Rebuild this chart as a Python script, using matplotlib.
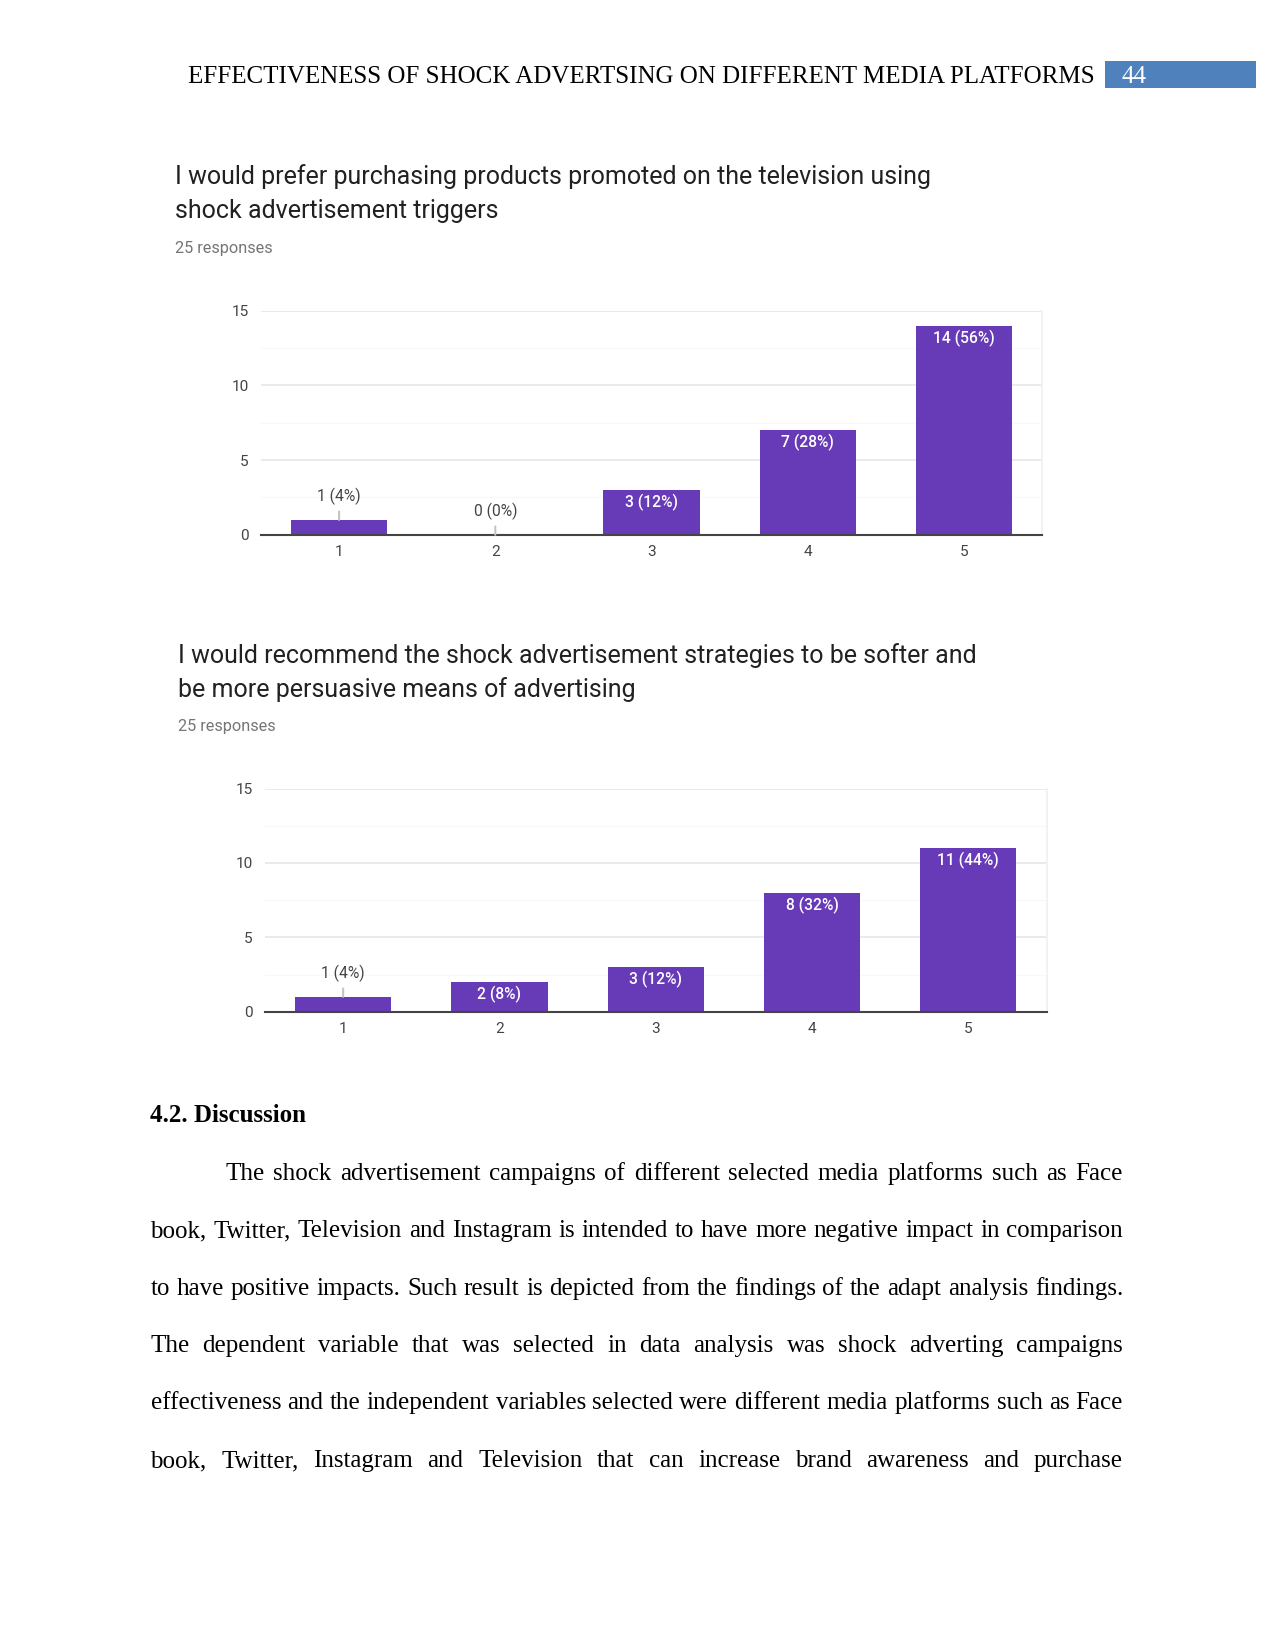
import matplotlib
matplotlib.use("Agg")
import matplotlib.pyplot as plt

# survey data (Likert scale 1-5, 25 responses each)
scale = [1, 2, 3, 4, 5]
tv_counts = [1, 0, 3, 7, 14]
softer_counts = [1, 2, 3, 8, 11]
responses = 25

tv_title = ["I would prefer purchasing products promoted on the television using",
            "shock advertisement triggers"]
softer_title = ["I would recommend the shock advertisement strategies to be softer and",
                "be more persuasive means of advertising"]

header = "EFFECTIVENESS OF SHOCK ADVERTSING ON DIFFERENT MEDIA PLATFORMS"
page_no = "44"
section = "4.2. Discussion"
body_lines = [
    "The shock advertisement campaigns of different selected media platforms such as Face",
    "book, Twitter, Television and Instagram is intended to have more negative impact in comparison",
    "to have positive impacts. Such result is depicted from the findings of the adapt analysis findings.",
    "The dependent variable that was selected in data analysis was shock adverting campaigns",
    "effectiveness and the independent variables selected were different media platforms such as Face",
    "book, Twitter, Instagram and Television that can increase brand awareness and purchase",
]

W, H = 1275, 1651
DPI = 150
PURPLE = "#673ab7"
SERIF = ["Liberation Serif", "DejaVu Serif"]
SANS = ["Roboto", "DejaVu Sans"]

fig = plt.figure(figsize=(W / DPI, H / DPI), dpi=DPI)
fig.patch.set_facecolor("white")


def fx(x):
    return x / W


def fy(y):
    return 1 - y / H


def px_text(x, y, s, **kw):
    return fig.text(fx(x), fy(y), s, **kw)


# page header
px_text(1095, 77, header, family=SERIF, fontsize=12, ha="right", va="center", color="black")
fig.patches.append(plt.Rectangle((fx(1105), fy(88)), fx(1256) - fx(1105), fy(61) - fy(88),
                                 transform=fig.transFigure, facecolor="#4f81bd", edgecolor="none"))
px_text(1121, 77, page_no, family=SERIF, fontsize=12, ha="left", va="center", color="white")


def draw_chart(counts, title, tx, ty, box):
    px_text(tx, ty, title[0], family=SANS, fontsize=12, color="#212121", va="center")
    px_text(tx, ty + 34, title[1], family=SANS, fontsize=12, color="#212121", va="center")
    px_text(tx, ty + 71, "%d responses" % responses, family=SANS, fontsize=7.8,
            color="#757575", va="center")

    left, right, top, bottom = box
    ax = fig.add_axes([fx(left), fy(bottom), fx(right) - fx(left), fy(top) - fy(bottom)])
    ax.bar(scale, counts, width=0.615, color=PURPLE, zorder=3)
    ax.set_xlim(0.5, 5.5)
    ax.set_ylim(0, 15)
    ax.set_yticks([0, 5, 10, 15])
    ax.set_yticks([2.5, 7.5, 12.5], minor=True)
    ax.set_xticks(scale)
    ax.grid(axis="y", which="major", color="#e6e6e6", lw=0.8, zorder=0)
    ax.grid(axis="y", which="minor", color="#f8f8f8", lw=0.5, zorder=0)
    for side in ["top", "left"]:
        ax.spines[side].set_visible(False)
    ax.spines["right"].set_color("#f0f0f0")
    ax.spines["bottom"].set_color("#444444")
    ax.spines["bottom"].set_linewidth(1.0)
    ax.spines["bottom"].set_zorder(4)
    ax.tick_params(axis="both", which="both", length=0, labelsize=7.4, colors="#444444")
    ax.tick_params(axis="y", pad=6)
    ax.tick_params(axis="x", pad=5)
    for lab in ax.get_xticklabels() + ax.get_yticklabels():
        lab.set_family(SANS)

    for x, c in zip(scale, counts):
        label = "%d (%d%%)" % (c, round(100 * c / responses))
        if c >= 2:
            ax.annotate(label, xy=(x, c), xytext=(0, -2), textcoords="offset points",
                        ha="center", va="top", color="white", fontsize=7.5,
                        family=SANS, weight="medium", zorder=5)
        else:
            ax.annotate(label, xy=(x, c), xytext=(0, 7), textcoords="offset points",
                        ha="center", va="bottom", color="#444444", fontsize=7.5, family=SANS,
                        arrowprops=dict(arrowstyle="-", color="#c4c4c4", lw=1,
                                        shrinkA=1, shrinkB=0), zorder=5)
    return ax


draw_chart(tv_counts, tv_title, 175, 177, (261, 1042, 310.6, 534.8))
draw_chart(softer_counts, softer_title, 178, 656, (265, 1046.5, 788.5, 1011.7))

# discussion section
px_text(150.5, 1116, section, family=SERIF, fontsize=12, weight="bold", va="center")

renderer = fig.canvas.get_renderer()


def justify(line, x0, x1, y):
    words = line.split()
    objs = [px_text(0, y, w, family=SERIF, fontsize=12, va="center") for w in words]
    widths = [o.get_window_extent(renderer).width for o in objs]
    gap = (x1 - x0 - sum(widths)) / (len(words) - 1)
    x = x0
    for o, w in zip(objs, widths):
        o.set_x(fx(x))
        x += w + gap


body_y = [1174, 1231, 1289, 1346, 1403, 1461]
for i, (line, y) in enumerate(zip(body_lines, body_y)):
    justify(line, 225 if i == 0 else 150.5, 1123, y)

fig.savefig("out.png", dpi=DPI)
